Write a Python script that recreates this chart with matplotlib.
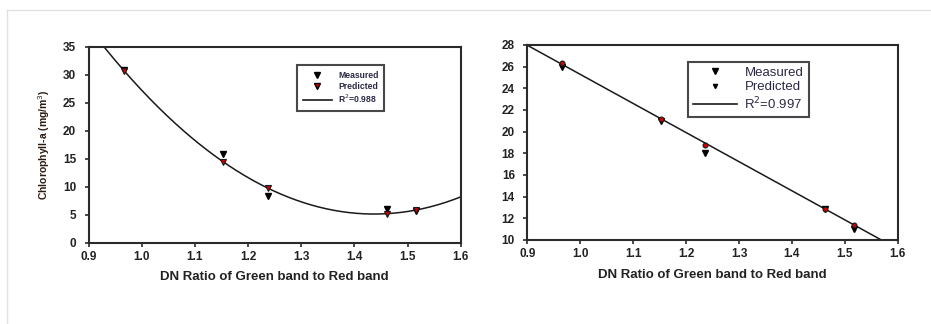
import numpy as np
import matplotlib
matplotlib.use("Agg")
import matplotlib.pyplot as plt
from matplotlib.lines import Line2D

plt.rcParams['font.family'] = ['Liberation Sans', 'DejaVu Sans']

# ---- data ----
ratio_left = [0.967, 1.153, 1.237, 1.461, 1.515]
chl_measured = [30.8, 15.8, 8.3, 6.1, 5.6]
chl_predicted = [30.7, 14.4, 9.8, 5.2, 5.8]

ratio_right = [0.965, 1.152, 1.236, 1.463, 1.518]
right_measured = [26.0, 21.0, 18.0, 12.9, 11.0]
right_predicted = [26.3, 21.2, 18.8, 12.9, 11.4]

xticks = [0.9, 1.0, 1.1, 1.2, 1.3, 1.4, 1.5, 1.6]
left_yticks = [0, 5, 10, 15, 20, 25, 30, 35]
right_yticks = [10, 12, 14, 16, 18, 20, 22, 24, 26, 28]
left_r2 = "0.988"
right_r2 = "0.997"
xlabel = "DN Ratio of Green band to Red band"
left_ylabel = "Chlorophyll-a (mg/m$^3$)"

fig = plt.figure(figsize=(9.31, 3.24), dpi=100)

# outer light frame (top and left lines)
fig.add_artist(Line2D([7/931, 1.0], [1 - 10/324, 1 - 10/324], color='#e2e2e2', lw=1.0, transform=fig.transFigure))
fig.add_artist(Line2D([7/931, 7/931], [0, 1 - 10/324], color='#e2e2e2', lw=1.0, transform=fig.transFigure))

axL = fig.add_axes([0.0951, 0.2509, 0.3998, 0.605])
axR = fig.add_axes([0.5664, 0.2593, 0.3979, 0.6019])

dark = '#222222'
for ax in (axL, axR):
    for s in ax.spines.values():
        s.set_linewidth(1.5)
        s.set_color('#2a2a2a')
    ax.tick_params(direction='out', length=3, width=1.2, color='#2a2a2a',
                   labelsize=8.5, labelcolor=dark, pad=3)
    ax.tick_params(axis='y', pad=6)
    ax.set_xlim(0.9, 1.6)
    ax.set_xticks(xticks)
    ax.set_xticklabels([f"{v:.1f}" for v in xticks], fontweight='bold')
    ax.set_xlabel(xlabel, fontsize=9.5, fontweight='bold', color=dark, labelpad=6)

# ---- left: quadratic fit ----
cL = np.polyfit(ratio_left, chl_predicted, 2)
xs = np.linspace(0.9, 1.6, 300)
axL.plot(xs, np.polyval(cL, xs), color='#1a1a1a', lw=1.1, zorder=2)
axL.plot(ratio_left, chl_measured, 'v', color='black', ms=4.5, zorder=3)
axL.plot(ratio_left, chl_predicted, 'v', mfc='#cc0000', mec='#1a1a1a', ms=4.5, mew=0.8, zorder=4)
axL.set_ylim(0, 35)
axL.set_yticks(left_yticks)
axL.set_yticklabels([str(v) for v in left_yticks], fontweight='bold')
axL.set_ylabel(left_ylabel, fontsize=7.5, fontweight='bold', color='#2a1a10', labelpad=8)

hL = [Line2D([], [], ls='none', marker='v', color='black', ms=4),
      Line2D([], [], ls='none', marker='v', mfc='#cc0000', mec='black', ms=4),
      Line2D([], [], color='#1a1a1a', lw=1.2)]
legL = axL.legend(hL, ["Measured", "Predicted", f"R$^2$=" + left_r2],
                  loc='upper left', bbox_to_anchor=(0.559, 0.905),
                  prop={'size': 6.2, 'weight': 'bold'}, frameon=True, fancybox=False,
                  borderpad=0.7, labelspacing=0.2, handlelength=3.4, handletextpad=0.7,
                  borderaxespad=0)
legL.get_frame().set_edgecolor('#1a1a1a')
legL.get_frame().set_linewidth(1.5)
for t in legL.get_texts():
    t.set_color('#2a2a44')

# ---- right: linear fit ----
cR = np.polyfit(ratio_right, right_predicted, 1)
axR.plot(xs, np.polyval(cR, xs), color='#1a1a1a', lw=1.1, zorder=2)
axR.plot(ratio_right, right_measured, 'v', color='black', ms=4.5, zorder=3)
axR.plot(ratio_right, right_predicted, 'o', mfc='#cc0000', mec='#1a1a1a', ms=3.5, mew=0.8, zorder=4)
axR.set_ylim(10, 28)
axR.set_yticks(right_yticks)
axR.set_yticklabels([str(v) for v in right_yticks], fontweight='bold')

hR = [Line2D([], [], ls='none', marker='v', color='black', ms=4),
      Line2D([], [], ls='none', marker='v', color='black', ms=3),
      Line2D([], [], color='#1a1a1a', lw=1.2)]
legR = axR.legend(hR, ["Measured", "Predicted", f"R$^2$=" + right_r2],
                  loc='upper left', bbox_to_anchor=(0.433, 0.915),
                  prop={'size': 9.5}, frameon=True, fancybox=False,
                  borderpad=0.4, labelspacing=0.15, handlelength=3.3, handletextpad=0.6,
                  borderaxespad=0)
legR.get_frame().set_edgecolor('#1a1a1a')
legR.get_frame().set_linewidth(1.5)
for t in legR.get_texts():
    t.set_color('#2a2a44')

fig.savefig("out.png", dpi=100, facecolor='white')
